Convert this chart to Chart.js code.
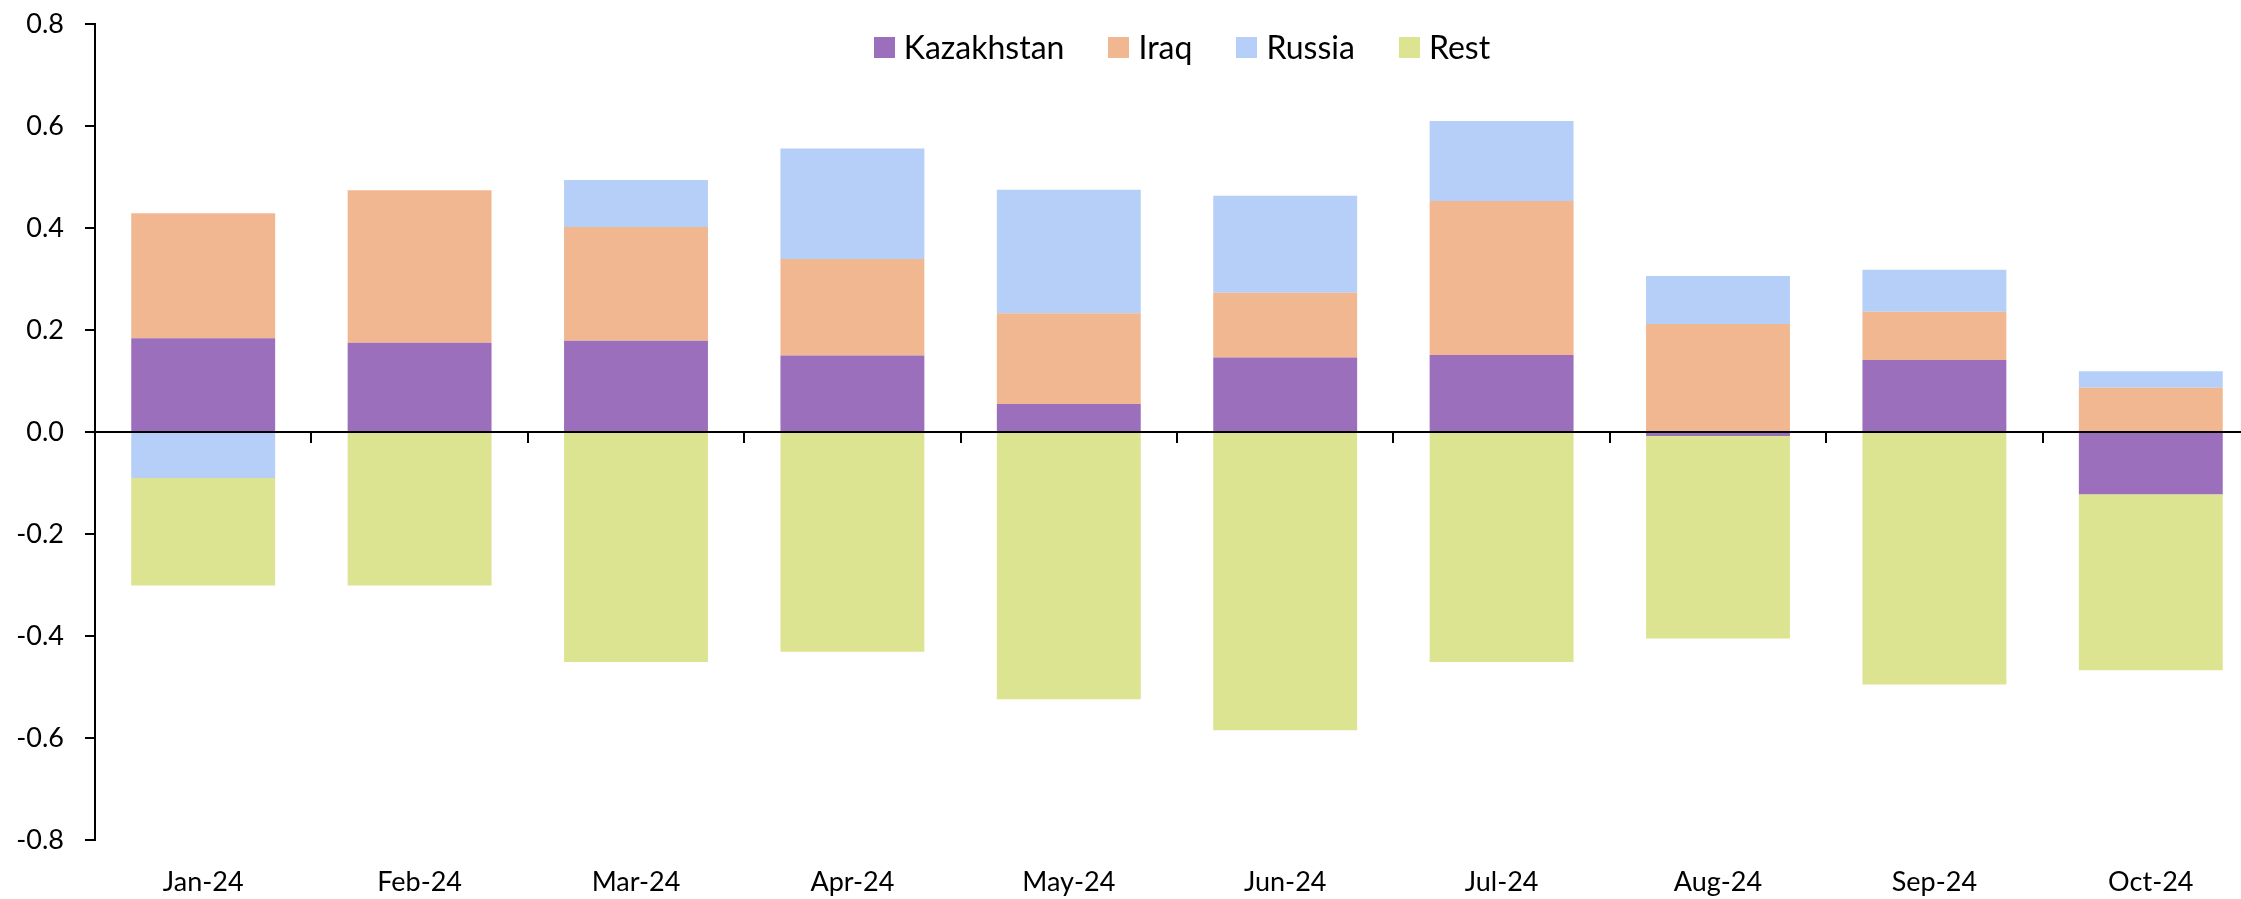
<!DOCTYPE html>
<html>
<head>
<meta charset="utf-8">
<script src="https://cdn.jsdelivr.net/npm/chart.js@4.4.1/dist/chart.umd.min.js"></script>
<style>
  html, body { margin: 0; padding: 0; background: #fff; overflow: hidden; }
  #wrap { position: absolute; left: 0; top: 0; width: 2262px; height: 899px; }
  #legend {
    position: absolute; left: 0; top: 31px; width: 2364px;
    display: flex; justify-content: center;
    font-family: Lato, "Open Sans", sans-serif; font-size: 32px; line-height: 32px; color: #000;
  }
  .item { display: flex; align-items: center; margin: 0 22px; }
  .box { width: 21px; height: 21px; margin-right: 9px; }
</style>
</head>
<body>
<div id="wrap"><canvas id="chart"></canvas></div>
<div id="legend"></div>
<script>
const months = ["Jan-24", "Feb-24", "Mar-24", "Apr-24", "May-24", "Jun-24", "Jul-24", "Aug-24", "Sep-24", "Oct-24"];
const kazakhstan = [0.184, 0.175, 0.179, 0.150, 0.055, 0.146, 0.151, -0.008, 0.141, -0.122];
const iraq = [0.245, 0.299, 0.223, 0.189, 0.178, 0.127, 0.302, 0.212, 0.095, 0.087];
const russia = [-0.090, 0, 0.092, 0.217, 0.242, 0.190, 0.157, 0.094, 0.082, 0.032];
const rest = [-0.211, -0.301, -0.451, -0.431, -0.524, -0.585, -0.451, -0.397, -0.495, -0.345];

const seriesNames = ["Kazakhstan", "Iraq", "Russia", "Rest"];
const seriesColors = ["#9b6fbb", "#f0b790", "#b5cff8", "#dce492"];
const seriesData = [kazakhstan, iraq, russia, rest];

const font = { family: "Lato, 'Open Sans', sans-serif", size: 27 };

const datasets = seriesNames.map((name, i) => ({
  label: name,
  data: seriesData[i],
  backgroundColor: seriesColors[i],
  borderWidth: 0,
  xAxisID: "x",
  barPercentage: 0.665,
  categoryPercentage: 1
}));

new Chart(document.getElementById("chart"), {
  type: "bar",
  data: { labels: months, datasets: datasets },
  options: {
    responsive: true,
    maintainAspectRatio: false,
    animation: false,
    layout: { padding: { top: 24, right: 3, left: 0, bottom: 0 } },
    plugins: { legend: { display: false }, tooltip: { enabled: false } },
    scales: {
      x: {
        stacked: true,
        position: "bottom",
        grid: { display: false, drawTicks: false },
        border: { display: false },
        ticks: { color: "#000", font: font, padding: 26, maxRotation: 0, autoSkip: false },
        afterFit: (scale) => { scale.height = 59; }
      },
      x0: {
        type: "category",
        labels: months,
        position: { y: 0 },
        offset: true,
        z: 1,
        grid: { offset: true, drawOnChartArea: false, drawTicks: true, tickLength: 10, color: "#000", lineWidth: 2 },
        border: { display: true, color: "#000", width: 2 },
        ticks: { display: false }
      },
      y: {
        stacked: true,
        min: -0.8,
        max: 0.8,
        grid: { drawOnChartArea: false, drawTicks: true, tickLength: 10, color: "#000", lineWidth: 2 },
        border: { display: true, color: "#000", width: 2 },
        ticks: {
          stepSize: 0.2,
          color: "#000",
          font: font,
          padding: 21,
          callback: (v) => (Math.abs(v) < 1e-9 ? 0 : v).toFixed(1)
        },
        afterFit: (scale) => {
          scale.width = 95;
          scale.paddingTop = 0;
          scale.paddingBottom = 0;
        }
      }
    }
  }
});

// html legend laid over the top of the plot, like the source
const legend = document.getElementById("legend");
seriesNames.forEach((name, i) => {
  const item = document.createElement("div");
  item.className = "item";
  const box = document.createElement("span");
  box.className = "box";
  box.style.background = seriesColors[i];
  const txt = document.createElement("span");
  txt.textContent = name;
  item.appendChild(box);
  item.appendChild(txt);
  legend.appendChild(item);
});
</script>
</body>
</html>
